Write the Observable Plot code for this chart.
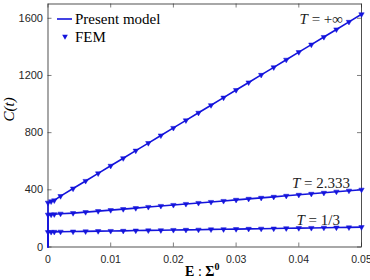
<!DOCTYPE html>
<html><head><meta charset="utf-8">
<script src="https://cdn.jsdelivr.net/npm/d3@7"></script>
<script src="https://cdn.jsdelivr.net/npm/@observablehq/plot@0.6"></script>
<style>body{margin:0;background:#fff} #chart{position:relative;width:370px;height:280px}</style>
</head><body><div id="chart"></div>
<script>
// strain E : Σ0 at which FEM points are given
const strain = [0, 0.0005, 0.001, 0.002, 0.004, 0.006, 0.008, 0.010, 0.012, 0.014, 0.016, 0.018, 0.020,
  0.022, 0.024, 0.026, 0.028, 0.030, 0.032, 0.034, 0.036, 0.038, 0.040, 0.042, 0.044, 0.046, 0.048, 0.050];
const cInf = [310, 319, 326, 356, 409, 462, 515, 568, 621, 674, 727, 780, 833,
  886, 939, 992, 1045, 1098, 1151, 1204, 1257, 1310, 1363, 1416, 1469, 1522, 1575, 1628];
const c2333 = [226, 227, 229, 233, 237, 244, 251, 258, 265, 272, 280, 287, 294,
  301, 308, 315, 322, 330, 337, 344, 351, 358, 365, 372, 379, 387, 394, 401];
const c13 = [104, 105, 106, 107, 108, 109, 111, 112, 113, 115, 116, 117, 119,
  120, 121, 123, 124, 125, 127, 128, 129, 131, 132, 133, 135, 136, 137, 139];
const seriesValues = [cInf, c2333, c13];
const seriesLabels = ["+∞", "2.333", "1/3"];
const xTicks = [0, 0.01, 0.02, 0.03, 0.04, 0.05];
const xTickLabels = ["0", "0.01", "0.02", "0.03", "0.04", "0.05"];
const yTicks = [0, 400, 800, 1200, 1600];
const legendLabels = ["Present model", "FEM"];

const blue = "#1414dc";
const axisColor = "#262626";
const W = 370, H = 280, mL = 47.5, mR = 9, mT = 3.5, mB = 33.5;
const fw = W - mL - mR, fh = H - mT - mB;

const fem = seriesValues.flatMap((vals, s) => vals.map((v, i) => ({s, x: strain[i], y: v})));
const model = seriesValues.flatMap((vals, s) => [{s, x: 0, y: 0}, ...vals.map((v, i) => ({s, x: strain[i], y: v}))]);

const plot = Plot.plot({
  width: W, height: H,
  marginLeft: mL, marginRight: mR, marginTop: mT, marginBottom: mB,
  style: {fontFamily: "Liberation Sans, Arial, sans-serif", background: "#fff"},
  x: {domain: [0, 0.05]},
  y: {domain: [0, 1700]},
  marks: [
    Plot.axisX({ticks: xTicks, tickFormat: (d, i) => xTickLabels[i], tickSize: 0, tickPadding: 9, fontSize: 10.5, color: axisColor, label: null}),
    Plot.axisY({ticks: yTicks, tickFormat: d => String(d), tickSize: 0, tickPadding: 5, fontSize: 11, color: axisColor, label: null}),
    Plot.tickX(xTicks, {x: d => d, insetTop: fh - 4, stroke: axisColor, strokeWidth: 0.6}),
    Plot.tickX(xTicks, {x: d => d, insetBottom: fh - 4, stroke: axisColor, strokeWidth: 0.6}),
    Plot.tickY(yTicks, {y: d => d, insetRight: fw - 4, stroke: axisColor, strokeWidth: 0.6}),
    Plot.tickY(yTicks, {y: d => d, insetLeft: fw - 4, stroke: axisColor, strokeWidth: 0.6}),
    Plot.frame({stroke: axisColor, strokeWidth: 0.8}),
    Plot.line(model, {x: "x", y: "y", z: "s", stroke: blue, strokeWidth: 1.6}),
    Plot.dot(fem, {x: "x", y: "y", symbol: "triangle", rotate: 180, r: 2, fill: blue, stroke: blue, strokeWidth: 0.5}),
    Plot.text(["C(t)"], {frameAnchor: "left", dx: -38.5, dy: -4, rotate: -90, text: d => d, fontFamily: "Liberation Serif, serif", fontStyle: "italic", fontSize: 15, fill: "#000"})
  ]
});
document.getElementById("chart").appendChild(plot);

const svg = d3.select(plot);
const sx = plot.scale("x"), sy = plot.scale("y");
// x-axis label with bold E, Σ and superscript 0
const xl = svg.append("text").attr("x", (mL + W - mR) / 2 - 2).attr("y", 276).attr("text-anchor", "middle")
  .attr("font-family", "Liberation Serif, serif").attr("font-size", 14).attr("fill", "#000");
xl.append("tspan").attr("font-weight", "bold").text("E");
xl.append("tspan").text(" : ");
xl.append("tspan").attr("font-weight", "bold").text("Σ");
xl.append("tspan").attr("font-weight", "bold").attr("font-size", 10).attr("dy", -6).text("0");
// series annotations, anchored at each series' last point
const annOffsets = [[-18, 5], [-11, -6], [-21, -7]];
seriesValues.forEach((vals, s) => {
  const px = sx.apply(strain[strain.length - 1]) + annOffsets[s][0];
  const py = sy.apply(vals[vals.length - 1]) + annOffsets[s][1];
  const t = svg.append("text").attr("x", px).attr("y", py).attr("text-anchor", "end")
    .attr("dominant-baseline", "central")
    .attr("font-family", "Liberation Serif, serif").attr("font-size", 15).attr("fill", "#222");
  t.append("tspan").attr("font-style", "italic").text("T");
  t.append("tspan").text(" = " + seriesLabels[s]);
});
// legend
const lg = svg.append("g").attr("text-anchor", "start");
lg.append("line").attr("x1", 57).attr("x2", 72).attr("y1", 19).attr("y2", 19).attr("stroke", blue).attr("stroke-width", 1.6);
lg.append("text").attr("x", 75).attr("y", 19).attr("dominant-baseline", "central")
  .attr("font-family", "Liberation Serif, serif").attr("font-size", 15).attr("fill", "#000").text(legendLabels[0]);
lg.append("path").attr("d", d3.symbol(d3.symbolTriangle, 14)()).attr("transform", "translate(65,36.5) rotate(180)").attr("fill", blue);
lg.append("text").attr("x", 75).attr("y", 37).attr("dominant-baseline", "central")
  .attr("font-family", "Liberation Serif, serif").attr("font-size", 15).attr("fill", "#000").text(legendLabels[1]);
</script>
</body></html>
